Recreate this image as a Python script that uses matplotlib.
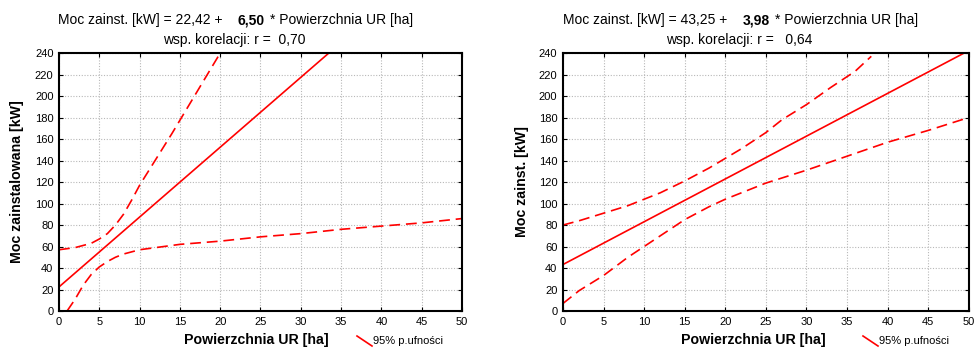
import matplotlib
matplotlib.use("Agg")
import matplotlib.pyplot as plt
from matplotlib.lines import Line2D

plt.rcParams['font.family'] = ['Liberation Sans', 'DejaVu Sans']

# --- dane: wykres lewy ---
left_fit_x = [0, 50]
left_fit_y = [22.42, 347.42]
left_up_x = [0, 2, 4, 5, 6, 7, 8, 9, 10, 12, 14, 16, 18, 20]
left_up_y = [57, 59, 63, 67, 72, 80, 90, 103, 117, 141, 165, 190, 215, 240]
left_lo_x = [1, 2, 3, 4, 5, 6, 7, 8, 10, 12, 15, 20, 25, 30, 35, 40, 45, 50]
left_lo_y = [0, 11, 24, 34, 41, 46, 50, 53, 57, 59, 62, 65, 69, 72, 76, 79, 82, 86]

# --- dane: wykres prawy ---
right_fit_x = [0, 50]
right_fit_y = [43.25, 242.25]
right_up_x = [0, 2, 5, 8, 10, 12, 15, 18, 20, 22, 25, 27, 30, 33, 36, 38]
right_up_y = [80, 84, 91, 98, 104, 110, 121, 133, 142, 151, 166, 178, 192, 208, 223, 237]
right_lo_x = [0, 2, 5, 8, 10, 12, 15, 18, 20, 25, 30, 35, 40, 45, 50]
right_lo_y = [7, 19, 33, 50, 60, 70, 85, 97, 104, 119, 131, 144, 157, 168, 180]

titles_a = ["Moc zainst. [kW] = 22,42 +", "Moc zainst. [kW] = 43,25 +"]
titles_b = ["6,50", "3,98"]
titles_r = ["wsp. korelacji: r =  0,70", "wsp. korelacji: r =   0,64"]
ylabels = ["Moc zainstalowana [kW]", "Moc zainst. [kW]"]

xticks = list(range(0, 55, 5))
yticks = list(range(0, 260, 20))

fig = plt.figure(figsize=(9.74, 3.49), dpi=100)
ax1 = fig.add_axes([0.0606, 0.1089, 0.4137, 0.739])
ax2 = fig.add_axes([0.578, 0.1089, 0.4165, 0.739])

panels = [
    (ax1, left_fit_x, left_fit_y, left_up_x, left_up_y, left_lo_x, left_lo_y),
    (ax2, right_fit_x, right_fit_y, right_up_x, right_up_y, right_lo_x, right_lo_y),
]
title_x = [0.0595, 0.578]
ylabel_x = [-0.088, -0.083]
xlabel_x = [0.49, 0.47]
legend_x = [357, 863]

for i, (ax, fx, fy, ux, uy, lx, ly) in enumerate(panels):
    ax.plot(fx, fy, color='red', lw=1.2)
    ax.plot(ux, uy, color='red', lw=1.2, dashes=(6.5, 3.5))
    ax.plot(lx, ly, color='red', lw=1.2, dashes=(6.5, 3.5))
    ax.set_xlim(0, 50)
    ax.set_ylim(0, 240)
    ax.set_xticks(xticks)
    ax.set_yticks(yticks)
    ax.grid(True, color='#b8b8b8', linestyle=(0, (1, 1.5)), lw=0.8)
    ax.tick_params(direction='in', top=True, right=True, length=3,
                   labelsize=8, colors='black', pad=4)
    for sp in ax.spines.values():
        sp.set_linewidth(1.5)
    ax.set_ylabel(ylabels[i], fontsize=10.2, fontweight='bold')
    ax.yaxis.set_label_coords(ylabel_x[i], 0.5)
    ax.set_xlabel("Powierzchnia UR [ha]", fontsize=10.2, fontweight='bold')
    ax.xaxis.set_label_coords(xlabel_x[i], -0.085)

    # tytuł z pogrubionym współczynnikiem
    t1 = fig.text(title_x[i], 0.922, titles_a[i], fontsize=10, va='bottom')
    t2 = ax.annotate(titles_b[i], xy=(1, 0), xycoords=t1, xytext=(11, 0),
                     textcoords='offset points', fontsize=10,
                     fontweight='bold', va='bottom')
    ax.annotate("* Powierzchnia UR [ha]", xy=(1, 0), xycoords=t2,
                xytext=(4, 0), textcoords='offset points', fontsize=10,
                va='bottom')
    cx = ax.get_position().x0 + ax.get_position().width * 0.435
    fig.text(cx, 0.885, titles_r[i], fontsize=10, ha='center', va='center')

    # legenda
    lx0 = legend_x[i] / 974
    fig.add_artist(Line2D([lx0, lx0 + 15 / 974], [1 - 336 / 349, 1 - 346 / 349],
                          color='red', lw=1.2, transform=fig.transFigure))
    fig.text(lx0 + 16 / 974, 1 - 341 / 349, "95% p.ufności", fontsize=8,
             va='center')

fig.savefig("out.png", dpi=100)
